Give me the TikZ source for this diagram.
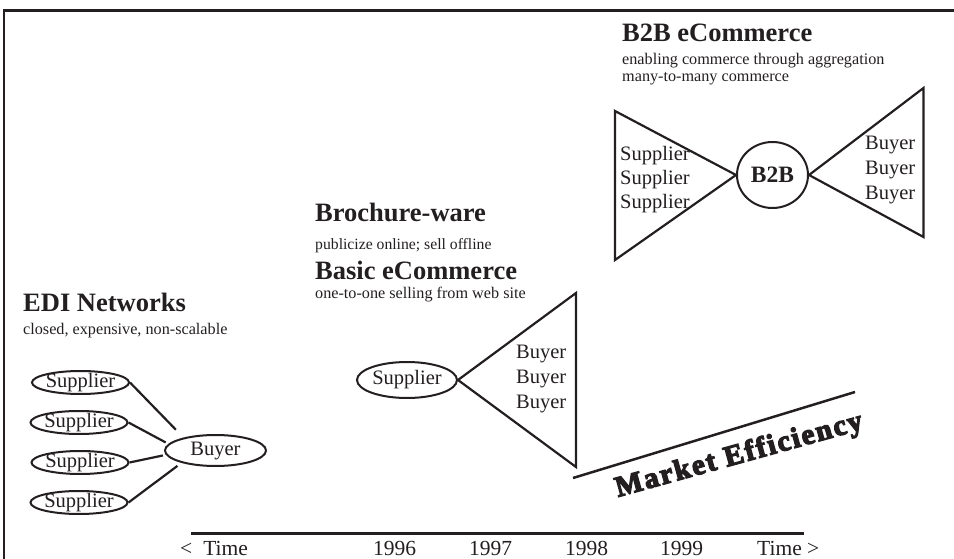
\documentclass[tikz,border=0pt]{standalone}
\usepackage{fontspec}
\setmainfont{Liberation Serif}
\newfontfamily\heavyfont[BoldFeatures={FakeBold=4.5,LetterSpace=7}]{Liberation Serif}
\usetikzlibrary{shapes.geometric}
\definecolor{ink}{RGB}{35,31,32}
\tikzset{
  ell/.style={draw=ink, ellipse, line width=2pt, inner sep=-6pt, text=ink,
    font=\fontsize{20.5}{24}\selectfont},
  lbl/.style={inner sep=0pt, anchor=base west, text=ink,
    font=\fontsize{20.5}{24}\selectfont},
  ttl/.style={inner sep=0pt, anchor=base west, text=ink,
    font=\bfseries\fontsize{26.5}{30}\selectfont},
  sub/.style={inner sep=0pt, anchor=base west, text=ink,
    font=\fontsize{16.2}{19}\selectfont},
  yr/.style={inner sep=0pt, anchor=base west, text=ink,
    font=\fontsize{21.5}{24}\selectfont},
  conn/.style={draw=ink, line width=2.2pt},
  frame/.style={draw=ink, line width=2.5pt},
  axis/.style={draw=ink, line width=3pt},
}
\begin{document}
\begin{tikzpicture}[x=1pt,y=-1pt]
\useasboundingbox (0,0) rectangle (954,559);
% frame
\coordinate (fa) at (4,559);
\coordinate (fb) at (4,10.5);
\coordinate (fc) at (954,10.5);
\draw[frame] (fa) -- (fb) -- (fc);

% EDI networks
\node[ttl] (edi) at (23,311.5) {EDI Networks};
\node[sub] (edis) at (23,334) {closed, expensive, non-scalable};
\node[ell, minimum width=97pt, minimum height=23pt] (s1) at (80.5,382.5) {Supplier};
\node[ell, minimum width=97pt, minimum height=23pt] (s2) at (79,422.5) {Supplier};
\node[ell, minimum width=97pt, minimum height=23pt] (s3) at (80,462.5) {Supplier};
\node[ell, minimum width=97pt, minimum height=23pt] (s4) at (79,502.5) {Supplier};
\node[ell, minimum width=101pt, minimum height=31pt] (b) at (215.5,450.5) {Buyer};
\draw[conn, shorten >=11pt] (s1.east) -- (b.158);
\draw[conn, shorten >=3pt] (s2.east) -- (b.172);
\draw[conn, shorten >=3pt] (s3.east) -- (b.185);
\draw[conn, shorten >=5pt] (s4.east) -- (b.200);

% Brochure-ware / Basic eCommerce
\node[ttl] (bro) at (315,222) {Brochure-ware};
\node[sub, font=\fontsize{15.7}{18}\selectfont] (bros) at (315,249) {publicize online; sell offline};
\node[ttl] (bec) at (315,279) {Basic eCommerce};
\node[sub] (becs) at (315,298) {one-to-one selling from web site};
\node[ell, minimum width=100pt, minimum height=36pt] (bs) at (407,380) {Supplier};
\coordinate (bt) at (576,293);
\coordinate (bb) at (576,467);
\draw[conn, line join=miter] (bs.east) -- (bt) -- (bb) -- cycle;
\node[lbl] (bb1) at (516,358) {Buyer};
\node[lbl] (bb2) at (516,383) {Buyer};
\node[lbl] (bb3) at (516,408) {Buyer};

% B2B eCommerce
\node[ttl] (b2b) at (622,41.5) {B2B eCommerce};
\node[sub] (b2bs1) at (622,65) {enabling commerce through aggregation};
\node[sub] (b2bs2) at (622,82) {many-to-many commerce};
\node[ell, minimum width=71pt, minimum height=66pt,
  font=\bfseries\fontsize{23.5}{26}\selectfont] (hub) at (772.5,175) {B2B};
\coordinate (lt) at (615,111);
\coordinate (lb) at (615,260);
\draw[conn, line join=miter] (lt) -- (hub.west) -- (lb) -- cycle;
\coordinate (rt) at (923.5,88);
\coordinate (rb) at (923.5,237);
\draw[conn, line join=miter] (hub.east) -- (rt) -- (rb) -- cycle;
\node[lbl] (ls1) at (620,161) {Supplier};
\node[lbl] (ls2) at (620,185) {Supplier};
\node[lbl] (ls3) at (620,209) {Supplier};
\node[lbl] (rb1) at (865,150) {Buyer};
\node[lbl] (rb2) at (865,175) {Buyer};
\node[lbl] (rb3) at (865,200) {Buyer};

% Market efficiency
\coordinate (m1) at (573,478);
\coordinate (m2) at (855,392);
\draw[conn, line width=2.5pt] (m1) -- (m2);
\node[inner sep=0pt, anchor=base west, rotate=15.5, text=ink,
  font=\heavyfont\bfseries\fontsize{29}{34}\selectfont] (me) at (618,497) {Market Efficiency};

% timeline
\coordinate (ta) at (191,533);
\coordinate (tb) at (804,533);
\draw[axis] (ta) -- (tb);
\node[yr] (tl) at (180,555) {<\hspace{11pt}Time};
\node[yr] (y96) at (373,555) {1996};
\node[yr] (y97) at (469,555) {1997};
\node[yr] (y98) at (565,555) {1998};
\node[yr] (y99) at (660,555) {1999};
\node[yr] (tr) at (757,555) {Time >};
\end{tikzpicture}
\end{document}
